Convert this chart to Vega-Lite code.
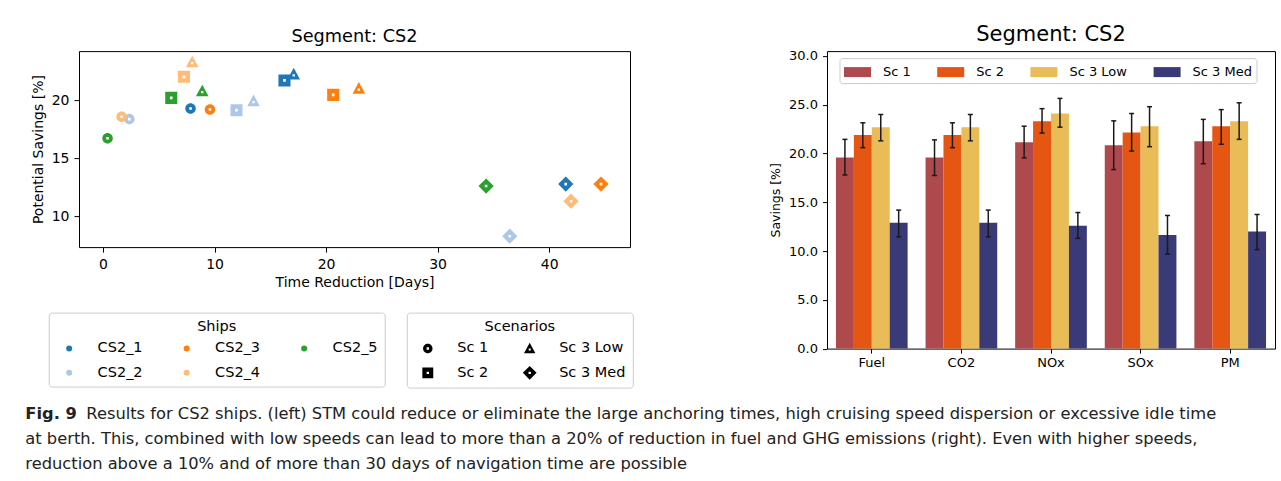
{
  "$schema": "https://vega.github.io/schema/vega-lite/v6.json",
  "background": "white",
  "padding": {"left": 25, "top": 23.1, "right": 0, "bottom": 0},
  "spacing": 16,
  "config": {
    "font": "DejaVu Sans",
    "view": {"stroke": "black", "strokeWidth": 1},
    "axis": {"grid": false, "domain": false, "tickColor": "black", "labelColor": "black", "titleColor": "black", "titleFontWeight": "normal", "tickWidth": 1},
    "legend": {"labelColor": "black", "titleColor": "black", "titleFontWeight": "normal"},
    "title": {"color": "black", "fontWeight": "normal"}
  },
  "vconcat": [
    {
      "hconcat": [
        {
          "width": 551,
          "height": 196,
          "title": {"text": "Segment: CS2", "fontSize": 17.7, "offset": 5, "anchor": "middle"},
          "data": {"values": [
            {"ship": "CS2_1", "scen": "Sc 1", "days": 7.85, "saving": 19.32},
            {"ship": "CS2_1", "scen": "Sc 2", "days": 16.27, "saving": 21.74},
            {"ship": "CS2_1", "scen": "Sc 3 Low", "days": 17.1, "saving": 22.28},
            {"ship": "CS2_1", "scen": "Sc 3 Med", "days": 41.49, "saving": 12.79},
            {"ship": "CS2_2", "scen": "Sc 1", "days": 2.36, "saving": 18.4},
            {"ship": "CS2_2", "scen": "Sc 2", "days": 11.97, "saving": 19.17},
            {"ship": "CS2_2", "scen": "Sc 3 Low", "days": 13.5, "saving": 19.97},
            {"ship": "CS2_2", "scen": "Sc 3 Med", "days": 36.47, "saving": 8.29},
            {"ship": "CS2_3", "scen": "Sc 1", "days": 9.59, "saving": 19.23},
            {"ship": "CS2_3", "scen": "Sc 2", "days": 20.64, "saving": 20.49},
            {"ship": "CS2_3", "scen": "Sc 3 Low", "days": 22.94, "saving": 21.05},
            {"ship": "CS2_3", "scen": "Sc 3 Med", "days": 44.65, "saving": 12.79},
            {"ship": "CS2_4", "scen": "Sc 1", "days": 1.67, "saving": 18.6},
            {"ship": "CS2_4", "scen": "Sc 2", "days": 7.26, "saving": 22.05},
            {"ship": "CS2_4", "scen": "Sc 3 Low", "days": 8.0, "saving": 23.33},
            {"ship": "CS2_4", "scen": "Sc 3 Med", "days": 41.96, "saving": 11.31},
            {"ship": "CS2_5", "scen": "Sc 1", "days": 0.41, "saving": 16.75},
            {"ship": "CS2_5", "scen": "Sc 2", "days": 6.12, "saving": 20.23},
            {"ship": "CS2_5", "scen": "Sc 3 Low", "days": 8.9, "saving": 20.83},
            {"ship": "CS2_5", "scen": "Sc 3 Med", "days": 34.35, "saving": 12.62}
          ]},
          "mark": {"type": "point", "filled": true, "opacity": 1, "size": 110, "strokeWidth": 0},
          "encoding": {
            "x": {"field": "days", "type": "quantitative",
              "scale": {"domain": [-2.15, 47.25], "nice": false, "zero": false},
              "axis": {"values": [0, 10, 20, 30, 40], "title": "Time Reduction [Days]", "labelFontSize": 14, "titleFontSize": 14, "tickSize": 5, "labelPadding": 5, "titlePadding": 4}},
            "y": {"field": "saving", "type": "quantitative",
              "scale": {"domain": [7.35, 24.27], "nice": false, "zero": false},
              "axis": {"values": [10, 15, 20], "title": "Potential Savings [%]", "labelFontSize": 14, "titleFontSize": 14, "tickSize": 5, "labelPadding": 5, "titlePadding": 6}},
            "color": {"field": "ship", "type": "nominal",
              "scale": {"domain": ["CS2_1", "CS2_3", "CS2_5", "CS2_2", "CS2_4"], "range": ["#1f77b4", "#ff7f0e", "#2ca02c", "#aec7e8", "#ffbb78"]},
              "legend": {"title": "Ships", "orient": "none", "legendX": -30.3, "legendY": 261.5, "columns": 3, "direction": "horizontal",
                "symbolType": "circle", "symbolSize": 36, "symbolStrokeWidth": 0, "symbolOpacity": 1,
                "labelFontSize": 14.5, "titleFontSize": 14.5, "titleAnchor": "middle", "titleAlign": "center",
                "padding": 7, "symbolOffset": 6.2, "labelOffset": 21.2, "columnPadding": 30.5, "rowPadding": 9.5, "titlePadding": 7,
                "strokeColor": "#cccccc", "fillColor": "white", "cornerRadius": 3}},
            "shape": {"field": "scen", "type": "nominal",
              "scale": {"domain": ["Sc 1", "Sc 3 Low", "Sc 2", "Sc 3 Med"],
                "range": [
                  "M1,0A1,1,0,1,1,-1,0A1,1,0,1,1,1,0Z M0.25,0.25L0.25,-0.25L-0.25,-0.25L-0.25,0.25Z",
                  "M0,-1.2L1.2,1L-1.2,1Z M0.22,0.45L0.22,0.02L-0.22,0.02L-0.22,0.45Z",
                  "M-1.15,-1.15L1.15,-1.15L1.15,1.15L-1.15,1.15Z M0.25,0.25L0.25,-0.25L-0.25,-0.25L-0.25,0.25Z",
                  "M0,-1.45L1.45,0L0,1.45L-1.45,0Z M0.25,0.25L0.25,-0.25L-0.25,-0.25L-0.25,0.25Z"
                ]},
              "legend": {"title": "Scenarios", "orient": "none", "legendX": 327.8, "legendY": 261.5, "columns": 2, "direction": "horizontal",
                "symbolSize": 90, "symbolFillColor": "black", "symbolStrokeColor": "black", "symbolStrokeWidth": 0, "symbolOpacity": 1,
                "labelFontSize": 14.5, "titleFontSize": 14.5, "titleAnchor": "middle", "titleAlign": "center",
                "padding": 7, "symbolOffset": 6.75, "labelOffset": 22.2, "columnPadding": 26.9, "rowPadding": 9.5, "titlePadding": 7,
                "strokeColor": "#cccccc", "fillColor": "white", "cornerRadius": 3}}
          }
        },
        {
          "width": 448,
          "height": 297.5,
          "title": {"text": "Segment: CS2", "fontSize": 21, "offset": 4.6, "anchor": "middle"},
          "data": {"values": [
            {"metric": "Fuel", "scenario": "Sc 1", "value": 19.6, "lo": 17.8, "hi": 21.45},
            {"metric": "Fuel", "scenario": "Sc 2", "value": 21.9, "lo": 20.6, "hi": 23.15},
            {"metric": "Fuel", "scenario": "Sc 3 Low", "value": 22.7, "lo": 21.3, "hi": 24.0},
            {"metric": "Fuel", "scenario": "Sc 3 Med", "value": 12.9, "lo": 11.45, "hi": 14.2},
            {"metric": "CO2", "scenario": "Sc 1", "value": 19.6, "lo": 17.75, "hi": 21.4},
            {"metric": "CO2", "scenario": "Sc 2", "value": 21.9, "lo": 20.6, "hi": 23.15},
            {"metric": "CO2", "scenario": "Sc 3 Low", "value": 22.7, "lo": 21.3, "hi": 24.0},
            {"metric": "CO2", "scenario": "Sc 3 Med", "value": 12.9, "lo": 11.45, "hi": 14.2},
            {"metric": "NOx", "scenario": "Sc 1", "value": 21.15, "lo": 19.55, "hi": 22.8},
            {"metric": "NOx", "scenario": "Sc 2", "value": 23.3, "lo": 22.1, "hi": 24.6},
            {"metric": "NOx", "scenario": "Sc 3 Low", "value": 24.1, "lo": 22.7, "hi": 25.65},
            {"metric": "NOx", "scenario": "Sc 3 Med", "value": 12.6, "lo": 11.3, "hi": 13.95},
            {"metric": "SOx", "scenario": "Sc 1", "value": 20.85, "lo": 18.35, "hi": 23.35},
            {"metric": "SOx", "scenario": "Sc 2", "value": 22.15, "lo": 20.25, "hi": 24.1},
            {"metric": "SOx", "scenario": "Sc 3 Low", "value": 22.8, "lo": 20.7, "hi": 24.8},
            {"metric": "SOx", "scenario": "Sc 3 Med", "value": 11.65, "lo": 9.7, "hi": 13.65},
            {"metric": "PM", "scenario": "Sc 1", "value": 21.25, "lo": 18.95, "hi": 23.5},
            {"metric": "PM", "scenario": "Sc 2", "value": 22.8, "lo": 20.95, "hi": 24.5},
            {"metric": "PM", "scenario": "Sc 3 Low", "value": 23.3, "lo": 21.45, "hi": 25.2},
            {"metric": "PM", "scenario": "Sc 3 Med", "value": 12.0, "lo": 10.15, "hi": 13.75}
          ]},
          "encoding": {
            "x": {"field": "metric", "type": "nominal", "sort": ["Fuel", "CO2", "NOx", "SOx", "PM"],
              "scale": {"paddingInner": 0.2, "paddingOuter": 0.1},
              "axis": {"title": null, "labelAngle": 0, "labelFontSize": 13, "tickSize": 4.5, "labelPadding": 3.5}},
            "xOffset": {"field": "scenario", "type": "nominal", "sort": ["Sc 1", "Sc 2", "Sc 3 Low", "Sc 3 Med"],
              "scale": {"paddingInner": 0, "paddingOuter": 0}}
          },
          "layer": [
            {
              "mark": {"type": "bar", "opacity": 1},
              "encoding": {
                "y": {"field": "value", "type": "quantitative", "title": "Savings [%]",
                  "scale": {"domain": [0, 30.5], "nice": false},
                  "axis": {"values": [0, 5, 10, 15, 20, 25, 30], "format": ".1f", "labelFontSize": 13, "titleFontSize": 12.5, "tickSize": 4.5, "labelPadding": 5, "titlePadding": 6.5}},
                "color": {"field": "scenario", "type": "nominal",
                  "scale": {"domain": ["Sc 1", "Sc 2", "Sc 3 Low", "Sc 3 Med"], "range": ["#ae4a4e", "#e45612", "#e9bc57", "#3a3a78"]},
                  "legend": {"title": null, "orient": "none", "legendX": 12.5, "legendY": 7, "columns": 4, "direction": "horizontal",
                    "symbolType": "M-1.35,-0.5L1.35,-0.5L1.35,0.5L-1.35,0.5Z", "symbolSize": 400, "symbolStrokeWidth": 0, "symbolOpacity": 1,
                    "labelFontSize": 13, "padding": 4, "symbolOffset": 4, "labelOffset": 15.5, "columnPadding": 25.2,
                    "strokeColor": "#cccccc", "fillColor": "white", "cornerRadius": 3}}
              }
            },
            {
              "mark": {"type": "rule", "color": "#1a1a1a", "strokeWidth": 1.5},
              "encoding": {
                "y": {"field": "lo", "type": "quantitative", "title": "Savings [%]"},
                "y2": {"field": "hi"}
              }
            },
            {
              "mark": {"type": "tick", "color": "#1a1a1a", "thickness": 1.5, "size": 5, "opacity": 1},
              "encoding": {"y": {"field": "lo", "type": "quantitative", "title": "Savings [%]"}}
            },
            {
              "mark": {"type": "tick", "color": "#1a1a1a", "thickness": 1.5, "size": 5, "opacity": 1},
              "encoding": {"y": {"field": "hi", "type": "quantitative", "title": "Savings [%]"}}
            }
          ]
        }
      ],
      "spacing": 134,
      "resolve": {"scale": {"color": "independent", "shape": "independent"}, "legend": {"color": "independent", "shape": "independent"}}
    },
    {
      "width": 1240,
      "height": 75,
      "view": {"stroke": null},
      "data": {"values": [
        {"line": 1, "part": "bold", "text": "Fig. 9"},
        {"line": 1, "part": "first", "text": "Results for CS2 ships. (left) STM could reduce or eliminate the large anchoring times, high cruising speed dispersion or excessive idle time"},
        {"line": 2, "part": "rest", "text": "at berth. This, combined with low speeds can lead to more than a 20% of reduction in fuel and GHG emissions (right). Even with higher speeds,"},
        {"line": 3, "part": "rest", "text": "reduction above a 10% and of more than 30 days of navigation time are possible"}
      ]},
      "encoding": {
        "y": {"field": "line", "type": "ordinal", "axis": null, "scale": {"type": "point", "padding": 0.5}},
        "text": {"field": "text", "type": "nominal"}
      },
      "layer": [
        {"transform": [{"filter": "datum.part == 'bold'"}],
          "mark": {"type": "text", "align": "left", "baseline": "alphabetic", "x": -53.7, "font": "DejaVu Sans", "fontSize": 16.3, "fontWeight": "bold", "color": "#222222"}},
        {"transform": [{"filter": "datum.part == 'first'"}],
          "mark": {"type": "text", "align": "left", "baseline": "alphabetic", "x": -53.7, "dx": 61, "font": "DejaVu Sans", "fontSize": 16.3, "color": "#222222"}},
        {"transform": [{"filter": "datum.part == 'rest'"}],
          "mark": {"type": "text", "align": "left", "baseline": "alphabetic", "x": -53.7, "font": "DejaVu Sans", "fontSize": 16.3, "color": "#222222"}}
      ]
    }
  ]
}
